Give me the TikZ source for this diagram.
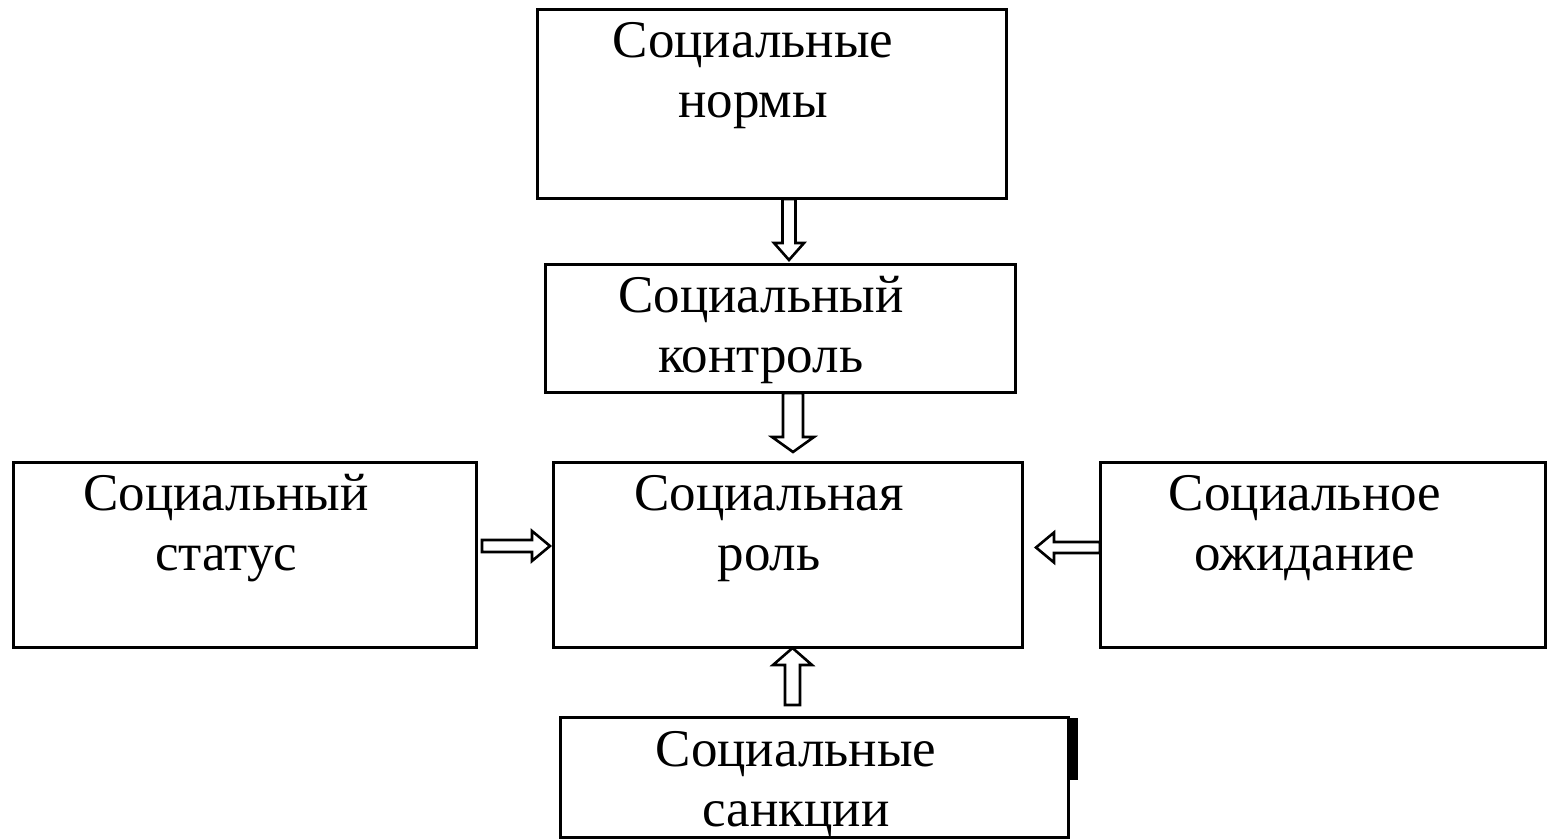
\documentclass[tikz,border=0pt]{standalone}
\usepackage{fontspec}
\setmainfont{Liberation Serif}
\usetikzlibrary{calc}
\tikzset{
  box/.style={draw=black, line width=3pt, fill=white, inner sep=0pt, outer sep=0pt},
  lbl/.style={anchor=base, align=center, inner sep=0pt, font=\fontsize{53}{60}\selectfont},
  arrowline/.style={draw=black, line width=2.6pt, fill=white, line join=miter},
}
\newcommand\blockarrow[5]{%
  \coordinate (ba-h) at ($(#2)!#5!(#1)$);
  \draw[arrowline] ($(#1)!#3!90:(#2)$) -- ($(ba-h)!#3!-90:(#1)$) -- ($(ba-h)!#4!-90:(#1)$) -- (#2)
    -- ($(ba-h)!#4!90:(#1)$) -- ($(ba-h)!#3!90:(#1)$) -- ($(#1)!#3!-90:(#2)$) -- cycle;
}
\begin{document}
\begin{tikzpicture}[x=1pt, y=1pt]
\useasboundingbox (0,0) rectangle (1549,840);
\fill[white] (0,0) rectangle (1549,840);
% boxes
\node[box, minimum width=469pt, minimum height=189pt] (norms) at (771.5,735.5) {};
\node[box, minimum width=470pt, minimum height=128pt] (control) at (780,511) {};
\node[box, minimum width=463pt, minimum height=185pt] (status) at (244.5,284.5) {};
\node[box, minimum width=469pt, minimum height=185pt] (role) at (787.5,284.5) {};
\node[box, minimum width=445pt, minimum height=185pt] (expect) at (1322.5,284.5) {};
\node[box, minimum width=508pt, minimum height=120pt] (sanct) at (814,62) {};
\fill[black] (1066.5,60) rectangle (1078,122) coordinate (bar);
% texts (base anchor = baseline of the last line)
\node[lbl] (tnorms) at (753,722) {Социальные\\нормы};
\node[lbl] (tcontrol) at (761,467) {Социальный\\контроль};
\node[lbl] (tstatus) at (226,269) {Социальный\\статус};
\node[lbl] (trole) at (769,269) {Социальная\\роль};
\node[lbl] (texpect) at (1305,269) {Социальное\\ожидание};
\node[lbl] (tsanct) at (796,13) {Социальные\\санкции};
% arrows
\coordinate (a1s) at ([xshift=17.5pt]norms.south);
\coordinate (a1e) at ([yshift=5pt]a1s |- control.north);
\blockarrow{a1s}{a1e}{6.5pt}{15pt}{17pt}
\coordinate (a2s) at ([xshift=13pt]control.south);
\coordinate (a2e) at ([yshift=11pt]a2s |- role.north);
\blockarrow{a2s}{a2e}{10pt}{21pt}{15pt}
\coordinate (a3s) at ([xshift=6pt,yshift=9.5pt]status.east);
\coordinate (a3e) at ([xshift=-3pt]a3s -| role.west);
\blockarrow{a3s}{a3e}{6pt}{15pt}{18pt}
\coordinate (a4s) at ([yshift=8pt]expect.west);
\coordinate (a4e) at ([xshift=14pt]a4s -| role.east);
\blockarrow{a4s}{a4e}{5.5pt}{15pt}{18pt}
\coordinate (a5s) at ([xshift=-21.5pt,yshift=13pt]sanct.north);
\coordinate (a5e) at (a5s |- role.south);
\blockarrow{a5s}{a5e}{7.5pt}{19.5pt}{17pt}
\end{tikzpicture}
\end{document}
